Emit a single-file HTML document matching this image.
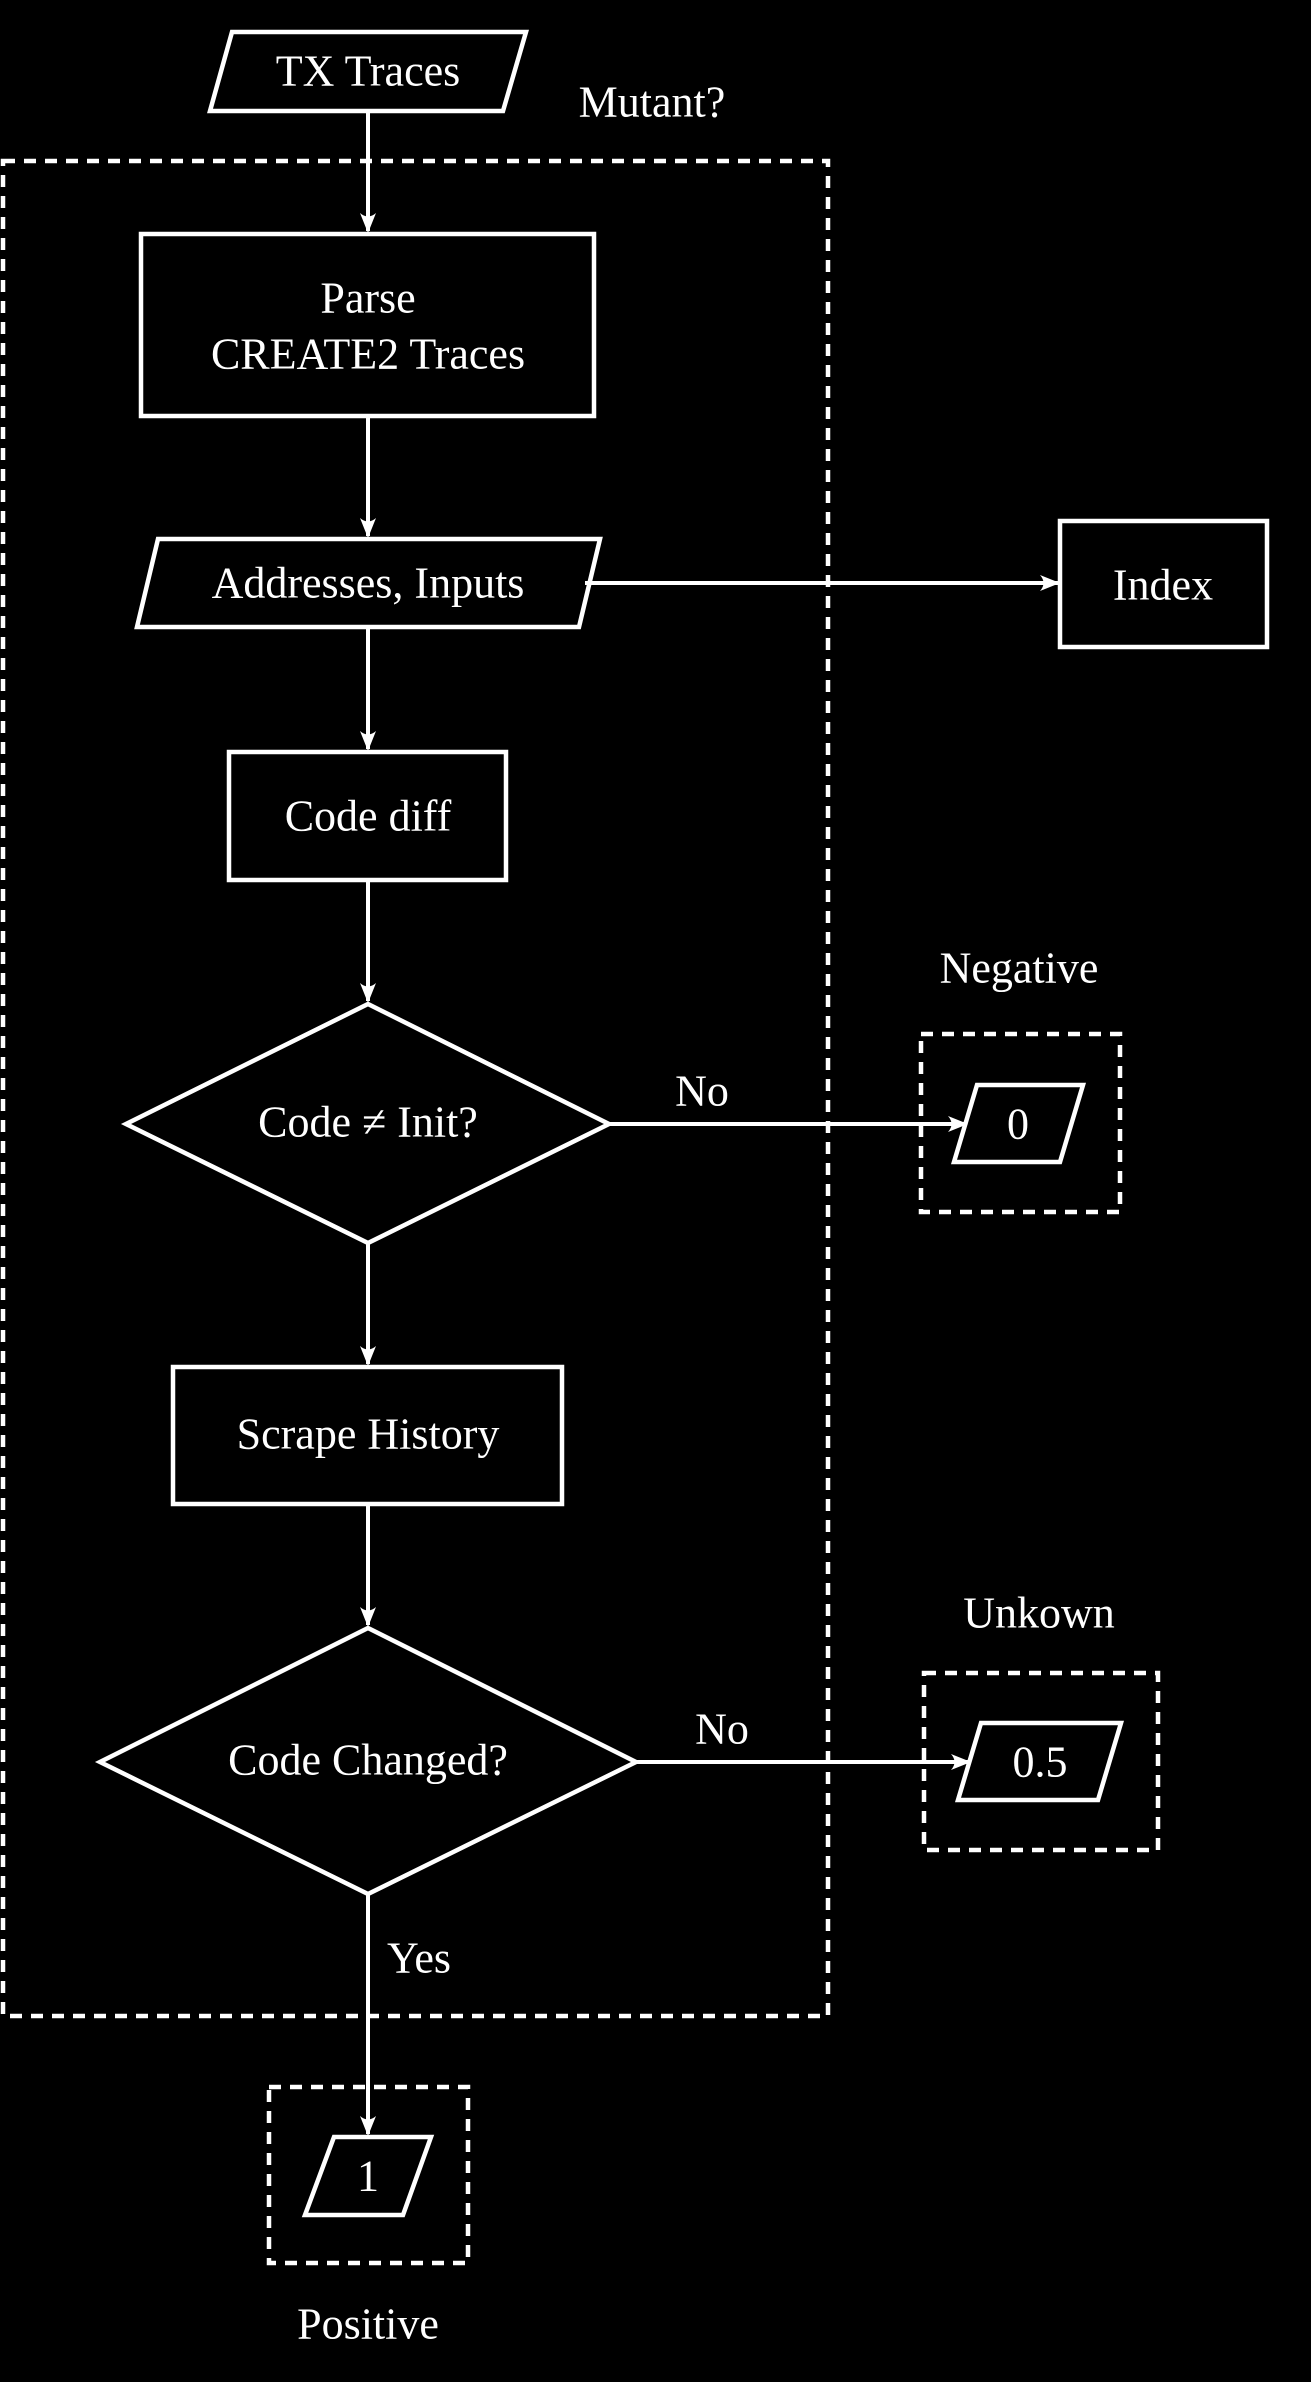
<!DOCTYPE html>
<html><head><meta charset="utf-8"><style>
html,body{margin:0;padding:0;background:#000;}
svg{display:block;}
text{font-family:"Liberation Serif",serif;font-size:44px;fill:#fff;text-anchor:middle;dominant-baseline:central;}
</style></head><body>
<svg width="1311" height="2382" viewBox="0 0 1311 2382" xmlns="http://www.w3.org/2000/svg">
<defs>
<marker id="a" markerWidth="20" markerHeight="16" refX="18" refY="8" orient="auto" markerUnits="userSpaceOnUse" viewBox="0 0 20 16">
<path d="M0,0 Q7,8 0,16 L20,8 Z" fill="#fff" stroke="none"/>
</marker>
</defs>
<rect width="1311" height="2382" fill="#000"/>
<g fill="none" stroke="#fff" stroke-width="4.5">
<rect x="3" y="161" width="825" height="1855" stroke-dasharray="12 9"/>
<rect x="921" y="1034" width="199" height="178" stroke-dasharray="12 9"/>
<rect x="924" y="1673" width="234" height="177" stroke-dasharray="12 9"/>
<rect x="269" y="2087" width="199" height="176" stroke-dasharray="12 9"/>
<polygon points="232,32 526,32 503,111 210,111"/>
<rect x="141" y="234" width="453" height="182"/>
<polygon points="158,539 600,539 579,627 137,627"/>
<rect x="1060" y="521" width="207" height="126"/>
<rect x="229" y="752" width="277" height="128"/>
<polygon points="368,1004 609,1124 368,1243 126,1124"/>
<polygon points="977,1085 1083,1085 1060,1162 954,1162"/>
<rect x="173" y="1367" width="389" height="137"/>
<polygon points="368,1628 636,1762 368,1894 100,1762"/>
<polygon points="981,1723 1121,1723 1098,1800 958,1800"/>
<polygon points="334,2137 431,2137 403,2215 305,2215"/>
<g stroke-width="4">
<line x1="368" y1="111" x2="368" y2="231" marker-end="url(#a)"/>
<line x1="368" y1="416" x2="368" y2="536" marker-end="url(#a)"/>
<line x1="585" y1="583" x2="1058" y2="583" marker-end="url(#a)"/>
<line x1="368" y1="627" x2="368" y2="749" marker-end="url(#a)"/>
<line x1="368" y1="880" x2="368" y2="1001" marker-end="url(#a)"/>
<line x1="609" y1="1124" x2="966" y2="1124" marker-end="url(#a)"/>
<line x1="368" y1="1243" x2="368" y2="1364" marker-end="url(#a)"/>
<line x1="368" y1="1504" x2="368" y2="1625" marker-end="url(#a)"/>
<line x1="636" y1="1762" x2="969" y2="1762" marker-end="url(#a)"/>
<line x1="368" y1="1894" x2="368" y2="2134" marker-end="url(#a)"/>
</g>
</g>
<text x="368" y="71">TX Traces</text>
<text x="652" y="102">Mutant?</text>
<text x="368" y="298">Parse</text>
<text x="368" y="354">CREATE2 Traces</text>
<text x="368" y="583">Addresses, Inputs</text>
<text x="1163" y="585">Index</text>
<text x="368" y="816">Code diff</text>
<text x="368" y="1122">Code ≠ Init?</text>
<text x="702" y="1091">No</text>
<text x="1019" y="968">Negative</text>
<text x="1018" y="1124">0</text>
<text x="368" y="1434">Scrape History</text>
<text x="368" y="1760">Code Changed?</text>
<text x="722" y="1729">No</text>
<text x="1039" y="1613">Unkown</text>
<text x="1040" y="1762">0.5</text>
<text x="419" y="1958">Yes</text>
<text x="368" y="2176">1</text>
<text x="368" y="2324">Positive</text>
</svg>
</body></html>
